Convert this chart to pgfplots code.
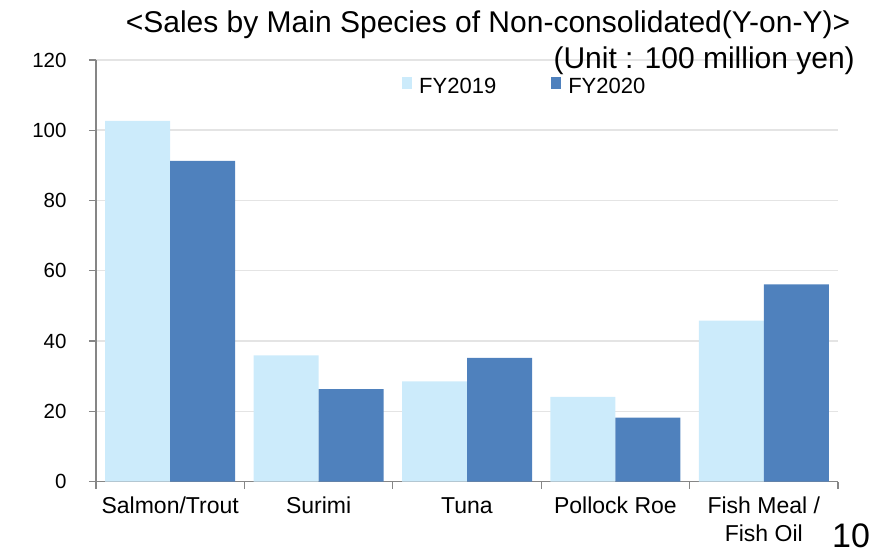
\documentclass[border=0pt]{standalone}
\usepackage{pgfplots}
\pgfplotsset{compat=1.18}
\usepackage{fontspec}
\setmainfont{Liberation Sans}

\definecolor{fyold}{RGB}{204,235,251}
\definecolor{fynew}{RGB}{79,129,189}
\definecolor{axisgray}{RGB}{134,134,134}
\definecolor{gridgray}{RGB}{228,228,228}

\newcommand{\fs}[1]{\fontsize{#1bp}{1.2\dimexpr#1bp\relax}\selectfont}
\newcommand{\twoline}[2]{\renewcommand{\arraystretch}{1.02}\begin{tabular}[t]{@{}c@{}}#1\\#2\end{tabular}}

\begin{document}
\begin{tikzpicture}
\begin{axis}[
  at={(0,0)}, anchor=south west,
  scale only axis,
  width=742bp, height=421.5bp,
  ybar, bar width=65bp,
  xmin=-0.5, xmax=4.5,
  ymin=0, ymax=120,
  ytick={0,20,...,120},
  xtick={0,1,2,3,4},
  xticklabels={Salmon/Trout,Surimi,Tuna,Pollock Roe,{\twoline{Fish Meal /}{Fish Oil}}},
  minor xtick={-0.5,0.5,...,4.5},
  major x tick style={draw=none},
  minor x tick style={draw=axisgray, line width=1.3bp},
  y tick style={draw=axisgray, line width=1.3bp},
  major tick length=7bp, minor tick length=7bp,
  tick align=outside,
  axis x line*=bottom, axis y line*=left,
  axis line style={draw=axisgray, line width=1.5bp, -},
  ymajorgrids, grid style={draw=gridgray, line width=1.5bp},
  /pgf/number format/assume math mode=true,
  yticklabel style={font=\fs{20.5}, anchor=east, xshift=-19bp},
  xticklabel style={font=\fs{23}, anchor=base, text depth=0pt},
  xticklabel shift=0pt,
  every x tick label/.append style={yshift=-25bp},
  legend columns=2,
  legend style={draw=none, fill=none, font=\fs{22},
    at={(0.4124,0.938)}, anchor=west, inner sep=0pt,
    nodes={inner sep=0pt},
    /tikz/every odd column/.append style={column sep=7bp},
    /tikz/every even column/.append style={column sep=55bp}},
  legend image code/.code={\fill[#1] (0bp,-2bp) rectangle (10bp,9.5bp);},
]
\addplot[fill=fyold, draw=none, bar shift=-32.5bp] coordinates
  {(0,102.7) (1,35.9) (2,28.5) (3,24.1) (4,45.8)};
\addplot[fill=fynew, draw=none, bar shift=32.5bp] coordinates
  {(0,91.3) (1,26.3) (2,35.2) (3,18.2) (4,56.1)};
\legend{FY2019,FY2020}
\end{axis}
\node[anchor=base, font=\fs{30}, inner sep=0pt] at (392bp,448.5bp)
  {<Sales by Main Species of Non-consolidated(Y-on-Y)>};
\node[anchor=base east, font=\fs{30}, inner sep=0pt] at (759bp,412.5bp)
  {(Unit : 100 million yen)};
\node[anchor=base west, font=\fs{34}, inner sep=0pt] at (736bp,-65.5bp) {10};
\path[use as bounding box] (-96bp,-67.5bp) rectangle (780bp,481.5bp);
\end{tikzpicture}
\end{document}
